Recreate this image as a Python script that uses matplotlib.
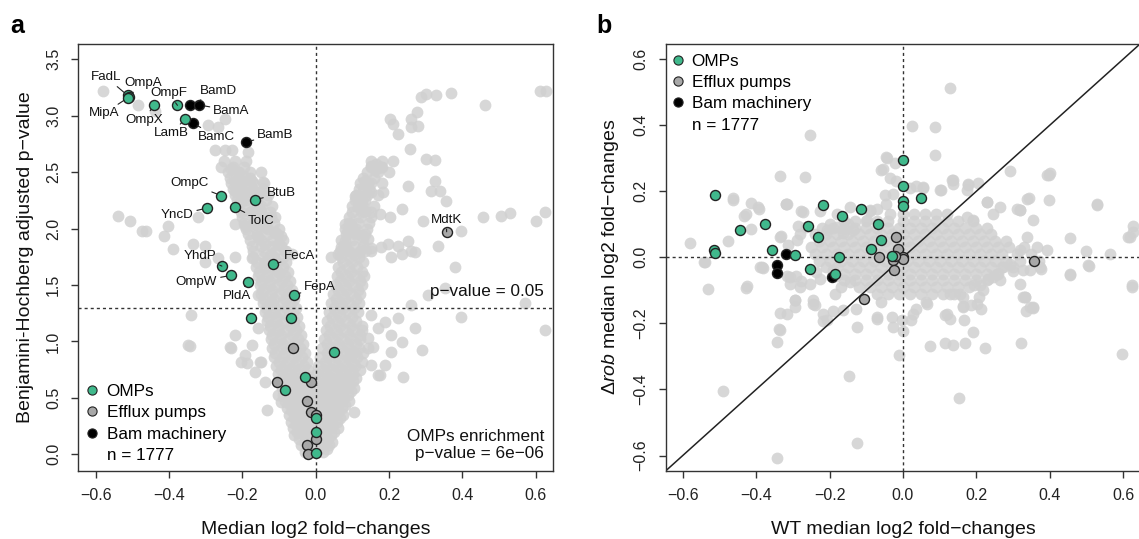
import numpy as np
import matplotlib.pyplot as plt
from matplotlib.lines import Line2D
from matplotlib.ticker import FuncFormatter

plt.rcParams['font.family'] = ['Liberation Sans', 'DejaVu Sans']
plt.rcParams['mathtext.fontset'] = 'custom'
plt.rcParams['mathtext.rm'] = 'Liberation Sans'
plt.rcParams['mathtext.it'] = 'Liberation Sans:italic'

GREEN = '#40B98C'
EFFLUX = '#A8A8A8'
BAM = '#000000'
BG = '#D0D0D0'
EDGE = '#222222'

# ---------------- panel a: volcano plot (x = median log2 FC, y = -log10 adj. p) ----------------
# background genes, scattered part
bg_a = [
    # upper left
    (-0.580, 3.222), (-0.486, 3.098), (-0.437, 3.045), (-0.294, 2.921), (-0.266, 2.897), (-0.248, 2.971),
    (-0.275, 2.696), (-0.248, 2.696), (-0.228, 2.696), (-0.185, 2.676),
    # left arm
    (-0.257, 2.543), (-0.230, 2.528), (-0.212, 2.499), (-0.194, 2.454), (-0.221, 2.425), (-0.198, 2.395),
    (-0.175, 2.425), (-0.144, 2.410), (-0.221, 2.336), (-0.194, 2.321), (-0.175, 2.336), (-0.153, 2.321),
    (-0.203, 2.247), (-0.175, 2.159), (-0.153, 2.174), (-0.139, 2.100), (-0.121, 2.100), (-0.221, 2.041),
    (-0.194, 2.026), (-0.166, 2.041), (-0.139, 2.011), (-0.112, 1.967), (-0.094, 1.937), (-0.157, 1.923),
    (-0.139, 1.864), (-0.103, 1.864), (-0.085, 1.805), (-0.121, 1.775), (-0.066, 1.775),
    # left, middle height
    (-0.539, 2.115), (-0.507, 2.070), (-0.475, 1.982), (-0.462, 1.976), (-0.414, 1.937), (-0.403, 2.026),
    (-0.335, 1.864), (-0.303, 1.849), (-0.321, 2.100), (-0.389, 1.819),
    # right arm, upper part
    (0.288, 3.163), (0.302, 3.193), (0.329, 3.184), (0.370, 3.201), (0.461, 3.095), (0.611, 3.222),
    (0.629, 3.222), (0.202, 2.971), (0.211, 2.927), (0.225, 2.838), (0.261, 2.971), (0.275, 3.030),
    (0.279, 2.912), (0.261, 2.897), (0.256, 2.705), (0.302, 2.617), (0.325, 2.608), (0.152, 2.558),
    (0.165, 2.572), (0.179, 2.543), (0.161, 2.519), (0.134, 2.425), (0.143, 2.395), (0.129, 2.336),
    (0.152, 2.321), (0.184, 2.321), (0.252, 2.380), (0.325, 2.425), (0.315, 2.336), (0.338, 2.336),
    (0.356, 2.247), (0.106, 2.292), (0.125, 2.247), (0.115, 2.188), (0.134, 2.159), (0.152, 2.144),
    (0.175, 2.129), (0.202, 2.100), (0.234, 2.174), (0.456, 2.106), (0.506, 2.115), (0.529, 2.135),
    (0.602, 2.070), (0.625, 2.144), (0.293, 2.070), (0.397, 1.982), (0.334, 1.849), (0.079, 2.041),
    (0.097, 2.041), (0.088, 1.982), (0.106, 1.967), (0.125, 1.937), (0.143, 1.908), (0.079, 1.893),
    (0.070, 1.834), (0.088, 1.805), (0.106, 1.775), (0.134, 1.805), (0.152, 1.828), (0.179, 1.834),
    (0.197, 1.864), (0.225, 1.849), (0.252, 1.893), (0.261, 1.805), (0.234, 1.775), (0.270, 1.790),
    (0.206, 1.745), (0.043, 1.745), (0.061, 1.775),
    # left arm, lower part
    (-0.303, 1.707), (-0.266, 1.737), (-0.221, 1.751), (-0.175, 1.737), (-0.139, 1.707), (-0.103, 1.618),
    (-0.157, 1.412), (-0.121, 1.353), (-0.157, 1.116), (-0.194, 0.880), (-0.148, 0.821),
    # right arm, lower part
    (0.152, 1.234), (0.143, 1.028), (0.170, 1.116), (0.188, 1.175), (0.206, 1.057), (0.152, 0.792),
    (0.125, 0.821), (0.097, 0.880),
    # scattered, lower half
    (-0.348, 0.969), (-0.339, 1.234), (-0.230, 0.939), (-0.221, 1.057), (-0.175, 0.969), (-0.203, 0.821),
    (-0.166, 0.732), (-0.139, 0.644), (-0.103, 0.526), (-0.094, 0.467), (0.188, 0.792), (0.206, 0.910),
    (0.234, 0.998), (0.270, 1.116), (0.397, 1.220), (0.379, 1.663), (0.570, 1.338), (0.625, 1.102),
    (0.170, 0.703), (0.143, 0.939), (0.225, 1.205), (0.261, 1.323), (0.306, 1.412), (0.352, 1.471),
    (-0.343, 0.960), (-0.234, 0.948), (-0.188, 0.806), (-0.152, 0.821), (-0.134, 0.393), (0.289, 0.924),
    (0.175, 0.703), (0.239, 0.688), (0.103, 0.378), (0.157, 0.954),
]

# background genes, dense V-shaped core: (y, [x, ...]) per row
core_a_rows = [
    (0.02, [-0.030, -0.005, 0.020]),
    (0.05, [-0.018, 0.008, 0.030]),
    (0.08, [-0.040, -0.015, 0.010, 0.035]),
    (0.11, [-0.028, -0.003, 0.022, 0.045]),
    (0.14, [-0.045, -0.020, 0.005, 0.030]),
    (0.17, [-0.058, -0.033, -0.008, 0.017, 0.042]),
    (0.20, [-0.050, -0.025, 0.000, 0.025, 0.050]),
    (0.23, [-0.063, -0.038, -0.013, 0.012, 0.037, 0.060]),
    (0.26, [-0.055, -0.030, -0.005, 0.020, 0.045]),
    (0.29, [-0.068, -0.043, -0.018, 0.007, 0.032, 0.057]),
    (0.32, [-0.060, -0.035, -0.010, 0.015, 0.040, 0.065]),
    (0.35, [-0.073, -0.048, -0.023, 0.002, 0.027, 0.052, 0.075]),
    (0.38, [-0.065, -0.040, -0.015, 0.010, 0.035, 0.060]),
    (0.41, [-0.078, -0.053, -0.028, -0.003, 0.022, 0.047, 0.072]),
    (0.44, [-0.070, -0.045, -0.020, 0.005, 0.030, 0.055, 0.080]),
    (0.47, [-0.083, -0.058, -0.033, -0.008, 0.017, 0.042, 0.067, 0.090]),
    (0.50, [-0.075, -0.050, -0.025, 0.000, 0.025, 0.050, 0.075]),
    (0.53, [-0.088, -0.063, -0.038, -0.013, 0.012, 0.037, 0.062, 0.087]),
    (0.56, [-0.080, -0.055, -0.030, -0.005, 0.020, 0.045, 0.070, 0.095]),
    (0.59, [-0.093, -0.068, -0.043, -0.018, 0.007, 0.032, 0.057, 0.082, 0.105]),
    (0.62, [-0.085, -0.060, -0.035, -0.010, 0.015, 0.040, 0.065, 0.090]),
    (0.65, [-0.098, -0.073, -0.048, -0.023, 0.002, 0.027, 0.052, 0.077, 0.102]),
    (0.68, [-0.090, -0.065, -0.040, -0.015, 0.015, 0.040, 0.065, 0.090, 0.110]),
    (0.71, [-0.103, -0.078, -0.053, -0.028, 0.002, 0.027, 0.052, 0.077, 0.102]),
    (0.75, [-0.095, -0.070, -0.045, -0.020, 0.020, 0.045, 0.070, 0.095, 0.120]),
    (0.78, [-0.108, -0.083, -0.058, -0.033, 0.007, 0.032, 0.057, 0.082, 0.107]),
    (0.82, [-0.100, -0.075, -0.050, -0.025, 0.025, 0.050, 0.075, 0.100]),
    (0.86, [-0.113, -0.088, -0.063, -0.038, 0.012, 0.037, 0.062, 0.087, 0.112]),
    (0.90, [-0.110, -0.085, -0.055, -0.030, 0.030, 0.055, 0.080, 0.105, 0.130]),
    (0.94, [-0.118, -0.093, -0.068, -0.043, 0.017, 0.042, 0.067, 0.092, 0.117]),
    (0.98, [-0.115, -0.090, -0.060, -0.035, 0.030, 0.060, 0.085, 0.110]),
    (1.02, [-0.123, -0.098, -0.073, -0.048, 0.022, 0.047, 0.072, 0.097, 0.122]),
    (1.06, [-0.120, -0.095, -0.065, -0.040, 0.035, 0.060, 0.090, 0.120]),
    (1.10, [-0.128, -0.103, -0.078, -0.053, 0.027, 0.052, 0.077, 0.102, 0.127]),
    (1.14, [-0.125, -0.100, -0.070, -0.045, 0.040, 0.065, 0.095, 0.125]),
    (1.18, [-0.133, -0.108, -0.083, -0.058, 0.032, 0.057, 0.082, 0.110]),
    (1.22, [-0.130, -0.105, -0.075, -0.050, 0.045, 0.070, 0.100]),
    (1.26, [-0.138, -0.113, -0.088, -0.063, 0.037, 0.062, 0.087, 0.115]),
    (1.30, [-0.135, -0.110, -0.080, -0.055, 0.050, 0.075, 0.105]),
    (1.34, [-0.143, -0.118, -0.093, -0.068, 0.042, 0.067, 0.092, 0.118]),
    (1.38, [-0.140, -0.115, -0.085, -0.060, 0.055, 0.080, 0.110]),
    (1.42, [-0.148, -0.123, -0.098, -0.073, 0.047, 0.072, 0.097, 0.122]),
    (1.46, [-0.145, -0.120, -0.090, -0.065, 0.060, 0.085, 0.115]),
    (1.50, [-0.153, -0.128, -0.103, -0.078, 0.052, 0.077, 0.102, 0.127]),
    (1.54, [-0.150, -0.125, -0.095, -0.070, 0.065, 0.090, 0.120]),
    (1.58, [-0.158, -0.133, -0.108, -0.083, 0.057, 0.082, 0.107, 0.132]),
    (1.62, [-0.155, -0.130, -0.100, -0.075, 0.070, 0.095, 0.125]),
    (1.66, [-0.163, -0.138, -0.113, -0.088, 0.062, 0.087, 0.112]),
    (1.70, [-0.160, -0.135, -0.105, -0.080, 0.075, 0.100, 0.130]),
    (1.75, [-0.170, -0.145, -0.115, -0.090, 0.068, 0.093, 0.118]),
    (1.80, [-0.170, -0.140, -0.110, -0.080, 0.065, 0.090, 0.120, 0.150]),
    (1.85, [-0.175, -0.150, -0.120, -0.095, 0.078, 0.103, 0.128]),
    (1.90, [-0.180, -0.150, -0.120, -0.090, 0.070, 0.100, 0.130]),
    (1.95, [-0.185, -0.160, -0.130, -0.105, 0.083, 0.108, 0.135]),
    (2.00, [-0.190, -0.160, -0.130, -0.100, 0.080, 0.110, 0.140]),
    (2.05, [-0.195, -0.170, -0.140, -0.115, 0.090, 0.115, 0.145]),
    (2.10, [-0.200, -0.170, -0.140, -0.110, 0.090, 0.120, 0.150]),
    (2.15, [-0.205, -0.180, -0.150, -0.125, 0.098, 0.125]),
    (2.20, [-0.210, -0.180, -0.150, -0.120, 0.100, 0.130, 0.160]),
    (2.25, [-0.215, -0.190, -0.160, -0.135, 0.108, 0.135]),
    (2.30, [-0.220, -0.190, -0.160, -0.130, 0.110, 0.140, 0.170]),
    (2.35, [-0.225, -0.200, -0.170, -0.145, 0.118, 0.145]),
    (2.40, [-0.230, -0.200, -0.170, -0.140, 0.120, 0.150, 0.180]),
    (2.45, [-0.235, -0.210, -0.180, 0.130, 0.158]),
    (2.50, [-0.240, -0.210, -0.180, -0.150, 0.140, 0.170, 0.200]),
    (2.55, [-0.225, -0.195, 0.150, 0.180]),
    (2.60, [-0.250, -0.220, -0.190, 0.150, 0.180, 0.210]),
]

omp_a_x = [-0.513, -0.510, -0.512, -0.442, -0.377, -0.356, -0.257, -0.166, -0.296, -0.220, -0.256, -0.116,
           -0.230, -0.184, -0.059, -0.176, -0.068, 0.050, -0.029, -0.085, 0.0, 0.0, 0.0]
omp_a_y = [3.180, 3.170, 3.160, 3.092, 3.092, 2.971, 2.291, 2.256, 2.182, 2.188, 1.668, 1.683,
           1.586, 1.527, 1.414, 1.205, 1.205, 0.909, 0.688, 0.572, 0.326, 0.197, 0.009]
omp_a_names = ['FadL', 'OmpA', 'MipA', 'OmpX', 'OmpF', 'LamB', 'OmpC', 'BtuB', 'YncD', 'TolC', 'YhdP', 'FecA',
               'OmpW', 'PldA', 'FepA', '', '', '', '', '', '', '', '']

efflux_a_x = [0.357, -0.062, -0.106, -0.014, -0.025, -0.012, 0.0, 0.0, -0.024, -0.021]
efflux_a_y = [1.972, 0.942, 0.643, 0.643, 0.472, 0.372, 0.348, 0.133, 0.087, 0.0]
efflux_a_names = ['MdtK', '', '', '', '', '', '', '', '', '']

bam_a_x = [-0.342, -0.317, -0.335, -0.191]
bam_a_y = [3.092, 3.095, 2.936, 2.767]
bam_a_names = ['BamD', 'BamA', 'BamC', 'BamB']

# where each gene name is written
label_pos = {
    'FadL': (-0.571, 3.340), 'OmpA': (-0.471, 3.290), 'MipA': (-0.577, 3.021), 'OmpX': (-0.468, 2.962),
    'OmpF': (-0.401, 3.198), 'BamD': (-0.266, 3.222), 'BamA': (-0.230, 3.045), 'LamB': (-0.394, 2.844),
    'BamC': (-0.271, 2.815), 'BamB': (-0.110, 2.832), 'OmpC': (-0.345, 2.404), 'BtuB': (-0.094, 2.312),
    'YncD': (-0.378, 2.122), 'TolC': (-0.148, 2.067), 'MdtK': (0.356, 2.079), 'YhdP': (-0.316, 1.757),
    'FecA': (-0.043, 1.757), 'OmpW': (-0.325, 1.530), 'PldA': (-0.214, 1.405), 'FepA': (0.012, 1.480),
}

n_genes = 1777
p_cutoff = 0.05
enrich_p = '6e\u221206'

# ---------------- panel b: rob deletion vs WT fold-changes ----------------
bg_b = [
    # scattered, above zero
    (0.129, 0.514), (-0.253, 0.371), (0.025, 0.398), (0.087, 0.395), (0.087, 0.309), (-0.335, 0.246),
    (-0.266, 0.243), (-0.044, 0.302), (-0.023, 0.287), (-0.059, 0.264), (0.397, 0.248), (0.292, 0.262),
    (0.135, 0.234), (0.105, 0.204), (0.177, 0.221), (0.205, 0.226), (0.343, 0.179), (0.399, 0.173),
    (0.529, 0.159), (0.320, 0.143), (-0.464, 0.179), (-0.414, 0.166), (-0.395, 0.151), (-0.318, 0.161),
    (-0.432, 0.125), (-0.277, 0.140), (-0.227, 0.140), (-0.580, 0.042), (-0.477, 0.049), (-0.414, 0.085),
    (-0.332, 0.065), (-0.286, 0.095), (-0.200, 0.100), (-0.164, 0.075), (-0.091, 0.140), (-0.036, 0.241),
    (-0.018, 0.231), (0.018, 0.211), (0.036, 0.216), (0.055, 0.211), (0.614, 0.062), (0.627, 0.095),
    (-0.540, -0.014), (-0.463, 0.175), (-0.429, 0.130), (-0.392, 0.147), (-0.383, -0.029), (-0.426, -0.088),
    (-0.320, 0.163), (-0.335, 0.062), (-0.313, 0.036), (-0.281, 0.072), (-0.263, 0.092), (-0.208, 0.082),
    (-0.181, 0.092), (-0.149, 0.102), (-0.135, 0.082), (-0.099, 0.112), (-0.072, 0.147), (-0.049, 0.188),
    (-0.035, 0.132), (-0.055, 0.266), (-0.045, 0.304), (0.137, 0.233), (0.178, 0.218),
    (0.392, 0.248), (0.337, 0.178), (0.228, 0.168), (0.265, 0.153), (0.310, 0.147),
    (0.174, 0.122), (0.355, 0.112), (0.337, 0.062), (0.365, 0.031), (0.392, 0.021), (0.319, 0.021),
    (0.627, 0.076), (0.455, 0.060), (0.500, 0.020), (-0.290, 0.052), (-0.272, 0.137), (-0.317, 0.163),
    (0.319, 0.142), (0.246, 0.132), (0.228, 0.168), (0.192, 0.112), (0.174, 0.203), (0.137, 0.223),
    (0.101, 0.203), (0.055, 0.213), (-0.026, 0.193), (-0.045, 0.163), (-0.090, 0.142), (-0.145, 0.153),
    (-0.181, 0.132), (0.528, 0.163), (0.400, 0.254), (0.565, 0.011), (0.619, 0.062),
    # scattered, below zero
    (-0.541, -0.014), (-0.530, -0.097), (-0.427, -0.092), (-0.382, -0.032), (-0.309, -0.080), (-0.277, -0.073),
    (-0.295, -0.130), (-0.293, -0.151), (-0.335, -0.168), (-0.339, -0.218), (-0.343, -0.257), (-0.241, -0.143),
    (-0.218, -0.194), (-0.191, -0.161), (-0.168, -0.090), (-0.127, -0.156), (-0.148, -0.360), (-0.125, -0.563),
    (-0.344, -0.607), (-0.489, -0.405), (-0.071, -0.186), (-0.029, -0.181), (-0.002, -0.191), (0.023, -0.191),
    (0.000, -0.224), (-0.011, -0.297), (-0.059, -0.135), (0.036, -0.156), (0.064, -0.135), (0.114, -0.176),
    (0.127, -0.186), (0.164, -0.148), (0.186, -0.145), (0.214, -0.156), (0.166, -0.191), (0.191, -0.226),
    (0.114, -0.259), (0.136, -0.265), (0.168, -0.259), (0.223, -0.275), (0.073, -0.267), (0.152, -0.426),
    (0.321, -0.259), (0.335, -0.161), (0.355, -0.154), (0.332, -0.120), (0.455, -0.052), (0.507, -0.026),
    (0.598, -0.294), (0.623, -0.090), (0.207, -0.120), (0.155, -0.110), (0.232, -0.065), (0.255, -0.050),
    (0.273, -0.029), (0.327, -0.039), (0.377, -0.034), (0.195, -0.085),
    (-0.145, -0.075), (-0.182, -0.055), (-0.236, -0.044), (-0.291, -0.055), (-0.317, -0.055), (-0.281, -0.090),
    (-0.254, -0.080), (-0.226, -0.065), (-0.190, -0.039), (-0.185, -0.110), (-0.217, -0.171), (-0.245, -0.130),
    (-0.317, -0.171), (-0.335, -0.221), (0.292, -0.019), (0.346, -0.039), (0.374, -0.029), (0.265, -0.070),
    (0.319, -0.080), (0.219, -0.100), (0.165, -0.120), (0.128, -0.110), (0.328, -0.120), (0.355, -0.150),
    (-0.390, -0.030), (-0.308, -0.060), (-0.295, -0.130), (-0.245, -0.140), (-0.208, -0.190), (-0.163, -0.160),
    (-0.126, -0.211), (-0.072, -0.180), (-0.026, -0.211), (0.028, -0.171), (0.065, -0.140), (0.119, -0.171),
    (0.165, -0.150), (0.201, -0.140), (0.210, -0.085), (0.246, -0.060), (0.301, -0.040), (0.333, -0.120),
    (0.346, -0.150), (0.455, -0.050), (0.505, -0.024), (0.624, -0.085),
]

# dense core of panel b around the origin: (y, [x, ...]) per row
core_b_rows = [
    (0.13, [0.00, 0.03, 0.06, 0.09, 0.12]),
    (0.11, [-0.16, -0.13, -0.10, -0.07, -0.04, 0.00, 0.03, 0.06, 0.09, 0.12, 0.15, 0.19]),
    (0.09, [-0.22, -0.19, -0.16, -0.13, -0.10, -0.07, -0.04, -0.01, 0.02, 0.05, 0.08, 0.11, 0.14, 0.17,
            0.20, 0.23]),
    (0.07, [-0.24, -0.21, -0.18, -0.15, -0.12, -0.09, -0.06, -0.03, 0.00, 0.03, 0.06, 0.09, 0.12, 0.15,
            0.18, 0.21, 0.24]),
    (0.05, [-0.23, -0.20, -0.17, -0.14, -0.11, -0.08, -0.05, -0.02, 0.01, 0.04, 0.07, 0.10, 0.13, 0.16,
            0.19, 0.22, 0.25, 0.28]),
    (0.03, [-0.25, -0.22, -0.19, -0.16, -0.13, -0.10, -0.07, -0.04, -0.01, 0.02, 0.05, 0.08, 0.11, 0.14,
            0.17, 0.20, 0.23, 0.26, 0.29, 0.33]),
    (0.01, [-0.24, -0.21, -0.18, -0.15, -0.12, -0.09, -0.06, -0.03, 0.00, 0.03, 0.06, 0.09, 0.12, 0.15,
            0.18, 0.21, 0.24, 0.27, 0.31, 0.35]),
    (-0.01, [-0.23, -0.20, -0.17, -0.14, -0.11, -0.08, -0.05, -0.02, 0.01, 0.04, 0.07, 0.10, 0.13, 0.16,
             0.19, 0.22, 0.25, 0.28, 0.32, 0.37]),
    (-0.03, [-0.21, -0.18, -0.15, -0.12, -0.09, -0.06, -0.03, 0.00, 0.03, 0.06, 0.09, 0.12, 0.15, 0.18,
             0.21, 0.24, 0.27, 0.30]),
    (-0.05, [-0.19, -0.16, -0.13, -0.10, -0.07, -0.04, -0.01, 0.02, 0.05, 0.08, 0.11, 0.14, 0.17, 0.20,
             0.23, 0.26]),
    (-0.07, [-0.16, -0.13, -0.10, -0.07, -0.04, -0.01, 0.02, 0.05, 0.08, 0.11, 0.14, 0.17, 0.20, 0.23]),
    (-0.09, [-0.12, -0.09, -0.06, -0.03, 0.00, 0.03, 0.06, 0.09, 0.12, 0.15, 0.18]),
    (-0.11, [-0.07, -0.04, -0.01, 0.02, 0.05, 0.08, 0.11, 0.14]),
]

omp_b_x = [-0.512, -0.514, -0.513, -0.443, -0.377, -0.357, -0.295, -0.259, -0.254, -0.231, -0.219, -0.185,
           -0.173, -0.166, -0.115, -0.086, -0.068, -0.059, -0.030, 0.0, 0.0, 0.0, 0.0, 0.050]
omp_b_y = [0.189, 0.021, 0.013, 0.083, 0.101, 0.021, 0.007, 0.095, -0.034, 0.063, 0.158, -0.050,
           0.001, 0.124, 0.145, 0.025, 0.100, 0.053, 0.003, 0.295, 0.217, 0.170, 0.154, 0.180]

efflux_b_x = [0.357, -0.019, -0.014, -0.064, 0.0, -0.026, -0.024, -0.106, 0.001, -0.021]
efflux_b_y = [-0.011, 0.061, 0.025, 0.0, 0.001, -0.009, -0.037, -0.127, -0.004, 0.004]

bam_b_x = [-0.342, -0.318, -0.343, -0.193]
bam_b_y = [-0.022, 0.009, -0.046, -0.058]

ticks = [-0.6, -0.4, -0.2, 0.0, 0.2, 0.4, 0.6]
yticks_a = [0.0, 0.5, 1.0, 1.5, 2.0, 2.5, 3.0, 3.5]


def with_rows(points, rows):
    pts = list(points)
    for y, xs in rows:
        pts.extend((x, y) for x in xs)
    return np.array(pts)


def fmt(v, pos):
    if abs(v) < 1e-9:
        v = 0.0
    return f'{v:.1f}'.replace('-', '\u2212')


def style_axis(ax, xlim, ylim, yticks):
    ax.set_xlim(xlim)
    ax.set_ylim(ylim)
    ax.set_xticks(ticks)
    ax.set_yticks(yticks)
    ax.xaxis.set_major_formatter(FuncFormatter(fmt))
    ax.yaxis.set_major_formatter(FuncFormatter(fmt))
    for s in ax.spines.values():
        s.set_linewidth(1.0)
        s.set_color('#333333')
    ax.tick_params(direction='out', length=5, width=1.0, color='#333333',
                   labelsize=11.5, labelcolor='#222222', pad=7.5)
    for lab in ax.get_yticklabels():
        lab.set_rotation(90)
        lab.set_va('center')


def draw_points(ax, ox, oy, ex, ey, bx, by, bg):
    ax.scatter(bg[:, 0], bg[:, 1], s=72, color=BG, alpha=0.85, linewidths=0, zorder=1)
    ax.scatter(ex, ey, s=52, color=EFFLUX, edgecolors=EDGE, linewidths=1.0, zorder=3)
    ax.scatter(bx, by, s=52, color=BAM, edgecolors=EDGE, linewidths=1.0, zorder=3)
    ax.scatter(ox, oy, s=52, color=GREEN, edgecolors=EDGE, linewidths=1.0, zorder=4)


def legend_handles():
    kw = dict(marker='o', linestyle='none', markersize=6.6, markeredgewidth=0.8, markeredgecolor=EDGE)
    return [Line2D([], [], markerfacecolor=GREEN, **kw),
            Line2D([], [], markerfacecolor=EFFLUX, **kw),
            Line2D([], [], markerfacecolor=BAM, **kw),
            Line2D([], [], linestyle='none', marker=None)]


legend_labels = ['OMPs', 'Efflux pumps', 'Bam machinery', f'n = {n_genes}']
legend_kw = dict(frameon=False, fontsize=12.3, borderpad=0, borderaxespad=0, handlelength=0.75,
                 handletextpad=0.45, labelspacing=0.37)
dotted = dict(color='#333333', linewidth=1.0, linestyle=(0, (2.2, 2.2)), zorder=2)

fig = plt.figure(figsize=(11.39, 5.39), dpi=100)
ax_a = fig.add_axes([0.0689, 0.1267, 0.4166, 0.7917])
ax_b = fig.add_axes([0.5843, 0.1267, 0.4169, 0.7917])

# ---- panel a ----
style_axis(ax_a, (-0.647, 0.647), (-0.145, 3.636), yticks_a)
draw_points(ax_a, omp_a_x, omp_a_y, efflux_a_x, efflux_a_y, bam_a_x, bam_a_y,
            with_rows(bg_a, core_a_rows))
ax_a.axvline(0, **dotted)
ax_a.axhline(-np.log10(p_cutoff), **dotted)

for xs, ys, names in [(omp_a_x, omp_a_y, omp_a_names), (efflux_a_x, efflux_a_y, efflux_a_names),
                      (bam_a_x, bam_a_y, bam_a_names)]:
    for x, y, name in zip(xs, ys, names):
        if not name:
            continue
        ax_a.annotate(name, xy=(x, y), xytext=label_pos[name], ha='center', va='center',
                      fontsize=9.6, color='#111111', zorder=5,
                      arrowprops=dict(arrowstyle='-', color='#222222', lw=0.8,
                                      shrinkA=0.5, shrinkB=3.5))

ax_a.text(0.623, 1.447, f'p\u2212value = {p_cutoff}', ha='right', va='center', fontsize=12.3, color='#111111')
ax_a.text(0.623, 0.085, f'OMPs enrichment\np\u2212value = {enrich_p}', ha='right', va='center',
          fontsize=12.3, color='#111111', linespacing=1.2)
ax_a.legend(legend_handles(), legend_labels, loc='lower left', bbox_to_anchor=(0.016, 0.018), **legend_kw)
ax_a.set_xlabel('Median log2 fold\u2212changes', fontsize=14, labelpad=13, color='#111111')
ax_a.set_ylabel('Benjamini-Hochberg adjusted p\u2212value', fontsize=14, labelpad=9, color='#111111')

# ---- panel b ----
style_axis(ax_b, (-0.647, 0.647), (-0.646, 0.646), ticks)
draw_points(ax_b, omp_b_x, omp_b_y, efflux_b_x, efflux_b_y, bam_b_x, bam_b_y,
            with_rows(bg_b, core_b_rows))
ax_b.axvline(0, **dotted)
ax_b.axhline(0, **dotted)
ax_b.plot([-1, 1], [-1, 1], color='#222222', linewidth=1.1, zorder=2)
ax_b.legend(legend_handles(), legend_labels, loc='upper left', bbox_to_anchor=(0.012, 0.977), **legend_kw)
ax_b.set_xlabel('WT median log2 fold\u2212changes', fontsize=14, labelpad=13, color='#111111')
ax_b.set_ylabel('$\\mathit{\\Delta rob}$ median log2 fold\u2212changes', fontsize=14, labelpad=9,
                color='#111111')

fig.text(0.009, 0.939, 'a', fontsize=18, fontweight='bold', va='baseline')
fig.text(0.524, 0.939, 'b', fontsize=18, fontweight='bold', va='baseline')

fig.savefig('out.png', dpi=100)
